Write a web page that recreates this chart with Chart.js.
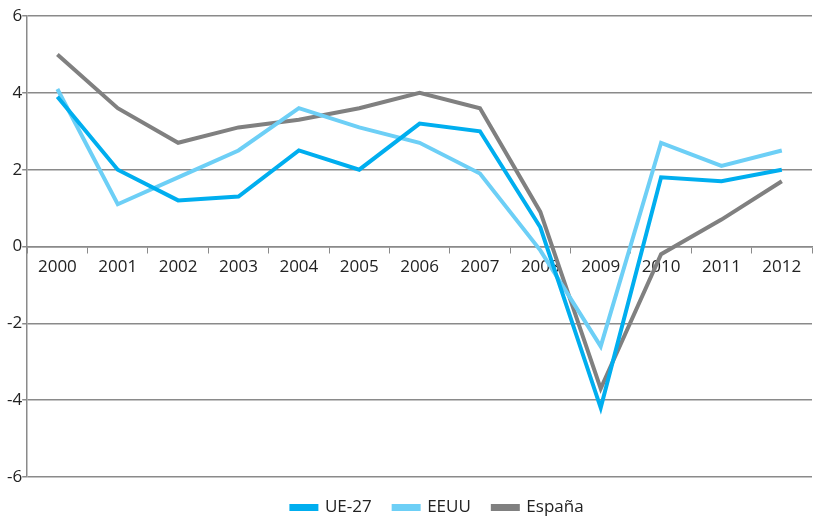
<!DOCTYPE html>
<html>
<head>
<meta charset="utf-8">
<script src="https://cdn.jsdelivr.net/npm/chart.js@4"></script>
<style>
  html, body { margin: 0; padding: 0; background: #fff; }
  #wrap { width: 813px; height: 516px; }
</style>
</head>
<body>
<div id="wrap"><canvas id="growthChart"></canvas></div>
<script>
// Years on the x axis
const years = ['2000', '2001', '2002', '2003', '2004', '2005', '2006', '2007', '2008', '2009', '2010', '2011', '2012'];

// Series values
const ue27 = [3.9, 2.0, 1.2, 1.3, 2.5, 2.0, 3.2, 3.0, 0.5, -4.2, 1.8, 1.7, 2.0];
const eeuu = [4.1, 1.1, 1.8, 2.5, 3.6, 3.1, 2.7, 1.9, -0.1, -2.6, 2.7, 2.1, 2.5];
const espana = [5.0, 3.6, 2.7, 3.1, 3.3, 3.6, 4.0, 3.6, 0.9, -3.7, -0.2, 0.7, 1.7];

const yTicks = [-6, -4, -2, 0, 2, 4, 6];

const fontFamily = '"Open Sans", "DejaVu Sans", sans-serif';
const gridColor = '#8a8a8a';

function series(label, data, color) {
    return {
        label: label,
        data: data,
        borderColor: color,
        backgroundColor: color,
        borderWidth: 4,
        pointRadius: 0,
        tension: 0,
        fill: false
    };
}

// Legend in the original sits a bit right of centre
const legendShift = {
    id: 'legendShift',
    afterLayout(chart) {
        if (chart.legend) chart.legend.left += 56;
    }
};

const ctx = document.getElementById('growthChart').getContext('2d');
new Chart(ctx, {
    type: 'line',
    data: {
        labels: years,
        datasets: [
            series('UE-27', ue27, '#00aeef'),
            series('EEUU', eeuu, '#6dcff6'),
            series('España', espana, '#808080')
        ]
    },
    options: {
        responsive: true,
        maintainAspectRatio: false,
        animation: false,
        // negative bottom padding pushes the legend nearer the bottom edge
        layout: { padding: { top: 16, right: 1, left: 7, bottom: -10 } },
        scales: {
            x: {
                position: { y: 0 },
                offset: true,
                grid: {
                    offset: true,
                    drawOnChartArea: false,
                    drawTicks: true,
                    tickLength: 6,
                    color: gridColor
                },
                border: { color: gridColor, width: 1.5 },
                ticks: {
                    color: '#222',
                    font: { family: fontFamily, size: 17 },
                    padding: 4,
                    maxRotation: 0
                }
            },
            y: {
                min: -6,
                max: 6,
                afterBuildTicks: (axis) => {
                    axis.ticks = yTicks.map(v => ({ value: v }));
                },
                grid: {
                    color: gridColor,
                    lineWidth: 1.5,
                    drawTicks: true,
                    tickLength: 5
                },
                border: { color: gridColor, width: 1.5 },
                ticks: {
                    color: '#222',
                    font: { family: fontFamily, size: 17 },
                    padding: 0
                }
            }
        },
        plugins: {
            legend: {
                position: 'bottom',
                labels: {
                    boxWidth: 25,
                    boxHeight: 3,
                    padding: 22,
                    color: '#222',
                    font: { family: fontFamily, size: 17 }
                }
            },
            tooltip: { enabled: false }
        }
    },
    plugins: [legendShift]
});
</script>
</body>
</html>
